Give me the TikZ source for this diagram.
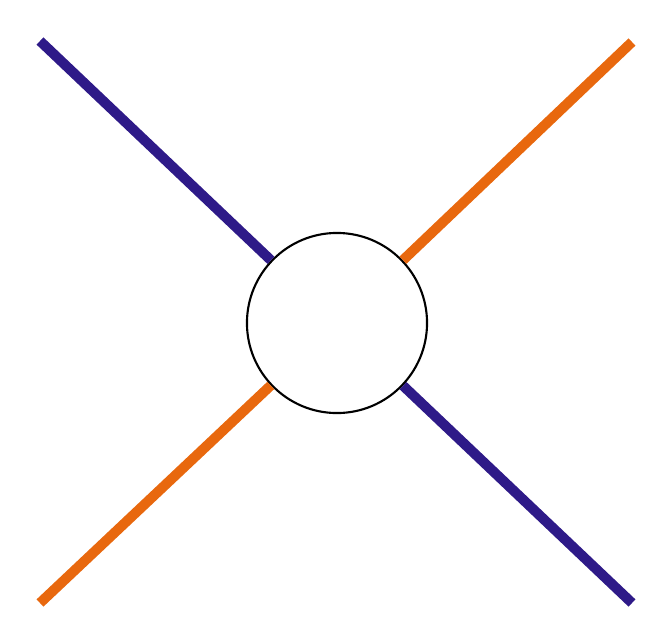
\documentclass[tikz,border=0pt]{standalone}
\definecolor{azul}{RGB}{46,26,136}
\definecolor{naranja}{RGB}{232,104,14}
\tikzset{
	pata/.style={line width=2.85pt},
	vertice/.style={circle, draw, fill=white, line width=0.6pt, minimum size=1.8cm, inner sep=0pt}
}
\begin{document}
\begin{tikzpicture}[x=0.01cm, y=-0.01cm]
\useasboundingbox (0,0) rectangle (648,642);

\node[vertice] (V) at (337,323) {};

% Extremos libres
	\coordinate (NO) at (40,41);
	\coordinate (SE) at (632,603);
	\coordinate (NE) at (632,42);
	\coordinate (SO) at (40,603);

% Patas
	\draw[pata, azul] (NO) -- (V);
	\draw[pata, azul] (V) -- (SE);
	\draw[pata, naranja] (NE) -- (V);
	\draw[pata, naranja] (V) -- (SO);
\end{tikzpicture}
\end{document}
